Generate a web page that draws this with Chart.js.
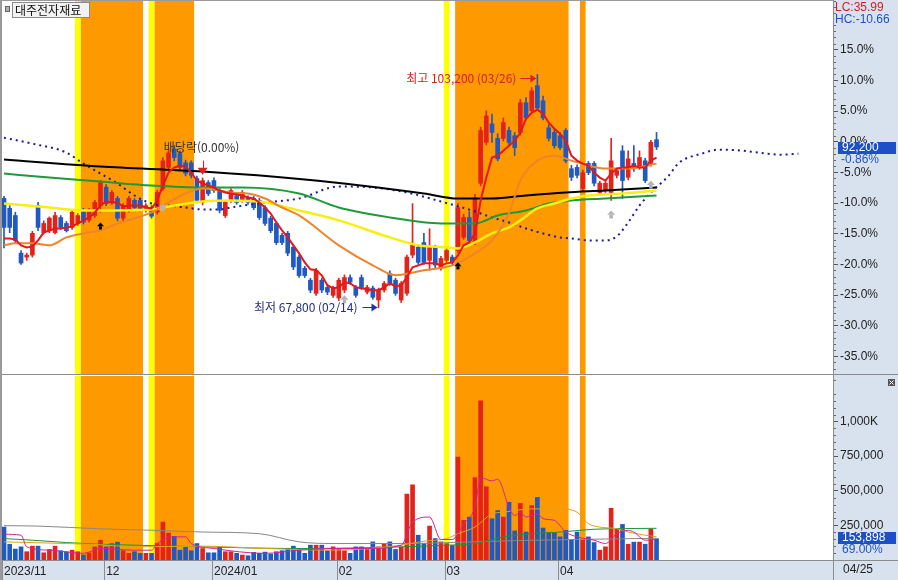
<!DOCTYPE html>
<html lang="ko"><head><meta charset="utf-8"><title>대주전자재료</title>
<script src="https://cdn.jsdelivr.net/npm/chart.js@4.4.1/dist/chart.umd.min.js"></script>
<style>
html,body{margin:0;padding:0;background:#fff;overflow:hidden}
#wrap{position:relative;width:898px;height:580px}
#c1,#c2{position:absolute;left:0;display:block}
#c1{top:0}#c2{top:375px}
</style></head><body>
<div id="wrap"><canvas id="c1" width="898" height="375"></canvas><canvas id="c2" width="898" height="205"></canvas></div>
<script>
// ---------------- DATA ----------------
const stockName = '대주전자재료';
const lastDate = '04/25';
const monthIdx = [0, 18, 37, 59, 78, 98];
const monthLabels = ['2023/11', '12', '2024/01', '02', '03', '04'];

const open = [84400,82900,81800,76100,75500,75800,83300,79200,79500,79200,
81500,80600,80000,80600,82600,81100,81800,83300,86100,83800,
84400,81400,82600,84100,84100,82600,83000,82300,85900,89100,
91900,91200,89800,89800,87400,83800,86800,87100,85600,81800,
84100,84800,84100,84500,84400,84100,83000,81400,80600,78800,
79100,77000,75500,73800,72000,70000,72000,70900,69700,69300,
70500,72400,70900,72400,70200,70800,69000,70500,73000,72000,
69000,70000,75800,77000,77700,75000,77000,73800,75000,75500,
76500,78500,81500,77700,86700,92900,95700,93500,93500,94700,
93900,94400,98900,97700,101500,99200,95100,94400,93900,94700,
88900,89100,85900,89700,89700,85300,85600,85300,87900,91600,
87600,89700,89100,90100,89700,93300];
const high = [84700,83300,82300,76500,76100,79400,83800,81000,81600,82300,
81800,80900,82600,82100,82900,82900,84100,87100,86500,85600,
84700,83600,84700,84400,84400,83600,83300,85600,90600,91900,
92400,91600,90200,90100,87800,87500,87100,87500,85900,84100,
85900,85100,85600,84800,84700,84400,83300,81700,80900,79100,
79400,77300,75800,74100,72300,73800,72300,71300,71100,72300,
72800,72800,71200,72800,71200,71100,70800,71800,73400,72300,
71800,75800,83600,77300,79100,79800,77300,75600,77000,75800,
83600,82000,82400,85000,95200,97700,97200,94200,96600,95200,
94400,99400,99700,101200,103200,99900,95600,94900,94400,95000,
89400,89500,88700,90000,90000,87000,87000,93500,89000,92400,
91600,92400,91600,90500,93200,94400];
const low = [76900,79200,77600,74400,75000,75500,79500,79000,79200,79000,
79700,79300,79700,80300,80500,80800,81500,82300,83300,83500,
81000,81000,82300,82700,82500,82300,81400,82000,85600,88800,
90100,88700,87800,87500,83700,83400,84800,85300,82200,81500,
83800,83500,83800,83500,82700,81200,80300,79200,77400,77400,
75700,73600,72400,72400,70100,69700,70100,69800,69400,68900,
70100,71400,69400,70600,69900,69100,67800,70200,71200,69700,
68600,69700,75400,74400,74400,73500,73900,73500,74700,74200,
76200,78200,77700,77400,86300,92500,92900,90100,93100,92500,
90900,94000,96300,97400,97800,96300,93100,92000,91800,89800,
87100,87500,85600,88000,86300,85000,85300,84100,87500,84400,
87200,88500,88800,86800,89300,91800];
const close = [80000,80000,78000,74600,75800,79100,80000,80600,81400,81800,
80000,79500,82300,81800,80800,82600,83800,86800,83600,85300,
81400,83300,84400,83000,82900,83300,81700,85300,90100,91300,
90600,89100,88200,87900,84100,87100,85100,85600,82600,83800,
85600,83800,85300,83800,83000,81500,80600,79500,77700,77700,
76100,74000,72700,72700,70500,73500,70500,70200,70800,72000,
72400,71700,69700,70900,70900,69400,70500,71500,71500,70000,
71500,75500,77300,74700,74700,77000,74300,75300,76500,74600,
83000,81500,78000,84500,94700,96900,94400,90400,95900,92900,
92100,98900,96600,100700,98100,96600,93500,92400,92100,90100,
87600,87900,88300,88300,86700,86700,86700,90100,88600,87100,
90400,88900,90600,87100,92900,92200];
const volume = [238000,114000,79000,95000,60000,100000,100000,52000,76000,100000,
67000,60000,71000,60000,36000,52000,95000,143000,95000,119000,
129000,67000,48000,60000,48000,48000,48000,119000,274000,195000,
171000,71000,95000,67000,119000,83000,52000,52000,95000,60000,
60000,48000,36000,31000,55000,48000,57000,43000,60000,67000,
79000,100000,83000,48000,107000,107000,107000,67000,95000,83000,
67000,48000,95000,95000,76000,131000,95000,114000,131000,76000,
95000,476000,543000,179000,119000,245000,155000,131000,119000,105000,
743000,286000,310000,595000,1150000,529000,298000,357000,310000,417000,
210000,409000,202000,393000,452000,231000,195000,195000,167000,214000,
148000,202000,143000,167000,126000,71000,95000,374000,226000,257000,
114000,129000,129000,114000,223040,153898];

// 5-day price average read point by point
const ma5 = [78330,78330,78180,77280,76970,77120,78030,79240,79540,79850,
79850,80000,80150,80600,81060,81510,82270,83320,83930,83780,
83780,83170,83320,83320,83320,83020,82870,84080,86350,88310,
89070,89370,89220,88310,87100,86650,86350,86050,85590,85290,
85140,84990,84840,84530,84380,83780,83020,82110,80750,79540,
78480,77280,76070,74700,73650,73500,72740,71230,70770,70920,
71680,71530,70920,70770,70620,70470,70470,70920,71530,71080,
71230,72440,73950,74250,74550,74550,74550,74250,74550,74700,
75760,77280,77730,79090,84080,87560,90580,90880,91640,92400,
93150,94360,96480,97390,97840,97230,95870,94970,94210,93150,
90880,90130,89670,89370,88310,87560,87100,88160,88920,89070,
89070,89370,89070,89070,90130,90580];

// longer averages read at sample points: [index, price]
const ma20 = [[0,77280],[2,77580],[5,77580],[8,77280],[11,78490],[14,79090],[17,79540],[20,80600],[23,81360],[26,82270],[29,83780],[32,85140],[35,85890],[38,85590],[40,85290],[43,85140],[46,84380],[49,83020],[52,81810],[59,77280],[65,74250],[69,72740],[74,73500],[79,74250],[83,76070],[86,78030],[89,82110],[91,87100],[94,90130],[97,90880],[100,90130],[103,89370],[106,88920],[110,88920],[115,89670]];
const ma60 = [[0,83630],[8,83020],[14,82570],[17,82570],[26,82720],[29,83170],[35,83930],[40,84080],[46,83780],[52,82570],[59,81060],[68,78490],[73,77280],[78,76970],[80,76820],[83,77730],[86,79090],[89,80000],[91,81060],[94,82870],[97,83630],[100,84380],[103,84840],[109,85140],[115,85590]];
const ma120 = [[0,88160],[8,87560],[17,86950],[26,86350],[35,86050],[42,86050],[52,85140],[59,83020],[68,81510],[77,80600],[83,80600],[87,81810],[92,82570],[96,83630],[100,84080],[106,84380],[115,84840]];
const ma240 = [[0,90280],[17,89220],[35,88460],[53,87250],[74,85140],[80,84380],[86,84380],[92,84840],[99,85290],[106,85590],[115,86050]];
const leadLine = [[0,93600],[5,92700],[11,91340],[14,89670],[17,88160],[20,86650],[23,84840],[26,83630],[29,83320],[32,83020],[35,82720],[38,82720],[40,83020],[46,83780],[52,84380],[59,86200],[65,86050],[71,85290],[77,83930],[83,82420],[86,81510],[89,80750],[92,79840],[95,79090],[98,78480],[100,78330],[103,78030],[106,78030],[108,78640],[110,80750],[112,83320],[114,85290],[117,87710],[119,89820],[123,91190],[126,91790],[130,91640],[133,91340],[137,91030],[140,91190]];

// volume averages read at sample points: [index, volume]
const volMaGray = [[0,248000],[6,245000],[17,225000],[26,215000],[35,202000],[45,190000],[52,131000],[58,119000],[70,119000],[78,125000],[90,140000],[115,157000]];
const volMaGreen = [[0,155000],[5,143000],[11,126000],[17,114000],[23,107000],[35,95000],[52,83000],[70,95000],[78,107000],[83,119000],[88,167000],[93,190000],[98,202000],[104,222000],[115,229000]];
const volMaOrange = [[0,131000],[11,119000],[17,110000],[23,95000],[35,100000],[46,83000],[58,71000],[70,107000],[74,136000],[78,155000],[80,190000],[83,238000],[86,333000],[88,345000],[93,369000],[98,369000],[101,345000],[103,262000],[105,238000],[108,226000],[110,202000],[115,167000]];
const volMa5 = [[0,186000],[3,179000],[4,95000],[8,71000],[14,48000],[17,83000],[23,71000],[26,71000],[27,119000],[30,167000],[32,167000],[33,119000],[37,83000],[46,48000],[52,71000],[58,83000],[64,83000],[70,107000],[72,274000],[75,310000],[77,148000],[79,148000],[81,262000],[83,381000],[84,595000],[86,571000],[87,583000],[89,381000],[90,321000],[91,345000],[92,310000],[94,333000],[95,298000],[97,286000],[99,202000],[101,167000],[104,143000],[106,119000],[108,190000],[110,214000],[111,202000],[113,143000],[115,148000]];

// signal markers and event marks: [index, price level]
const yellowBands = [13, 26, 78];
const orangeBands = [[14,24],[27,33],[80,99],[102,102]];
const blackSignals = [[17,80750],[80,74700]];
const graySignals = [[28,83630],[60,69700],[107,82570],[114,87100]];
const exDivIndex = 35, exDivLevel = 88000, exDivRate = '0.00%';
const BASE = 93000;
const pctTicks = [15,10,5,0,-5,-10,-15,-20,-25,-30,-35];
const volTicks = [250000,500000,750000,1000000];

// ---------------- STYLE ----------------
const AXIS_BG = '#d8e1ee';
const UP = '#e3231b', DOWN = '#1f59c2';
const PCT_TOP = 23.10, PCT_BOTTOM = -37.88;
const VOL_MAX = 1329000;
const X_MIN = -0.53, X_MAX = 146.1;
const NUMFONT = '"Liberation Sans", Arial, sans-serif';
const KRFONT = '"Noto Sans CJK KR", "Noto Sans", sans-serif';
Chart.defaults.font.family = NUMFONT;
Chart.defaults.font.size = 12;
Chart.defaults.color = '#222';

const N = close.length;
const candleColors = close.map((c,i)=> c >= open[i] ? UP : DOWN);
const toXY = a => a.map(([i,v]) => ({x:i, y:v}));
const pct = v => (v/BASE - 1) * 100;
const fmt = n => Math.round(n).toString().replace(/\B(?=(\d{3})+(?!\d))/g, ',');
const lastClose = close[N-1];
const minLow = Math.min(...low), maxHigh = Math.max(...high);
const minIdx = low.indexOf(minLow), maxIdx = high.indexOf(maxHigh);

function hline(ctx,x0,x1,y){ctx.beginPath();ctx.moveTo(x0,y);ctx.lineTo(x1,y);ctx.stroke();}
function vline(ctx,x,y0,y1){ctx.beginPath();ctx.moveTo(x,y0);ctx.lineTo(x,y1);ctx.stroke();}
function noPad(s){ s.paddingTop = 0; s.paddingBottom = 0; s.paddingLeft = 0; s.paddingRight = 0; }

function drawBands(chart){
  const {ctx, chartArea:a} = chart, x = chart.scales.x;
  ctx.save();
  const fillSlot = (i0,i1,col)=>{
    const x0 = x.getPixelForValue(i0-0.5), x1 = x.getPixelForValue(i1+0.5);
    ctx.fillStyle = col; ctx.fillRect(x0, a.top, x1-x0, a.bottom-a.top);
  };
  orangeBands.forEach(b=>fillSlot(b[0],b[1],'#ff9900'));
  yellowBands.forEach(i=>fillSlot(i,i,'#ffff00'));
  ctx.restore();
}
function arrowUp(ctx,x,yTip,col,w,h){
  ctx.fillStyle = col;
  ctx.beginPath(); ctx.moveTo(x,yTip); ctx.lineTo(x+w/2,yTip+h*0.55); ctx.lineTo(x-w/2,yTip+h*0.55); ctx.closePath(); ctx.fill();
  ctx.fillRect(x-w*0.22, yTip+h*0.55, w*0.44, h*0.45);
}
function arrowRight(ctx,x0,x1,y,col){
  ctx.strokeStyle = col; ctx.fillStyle = col; ctx.lineWidth = 1;
  hline(ctx,x0,x1-4,y+0.5);
  ctx.beginPath(); ctx.moveTo(x1,y+0.5); ctx.lineTo(x1-6,y-3.5); ctx.lineTo(x1-6,y+4.5); ctx.closePath(); ctx.fill();
}

const mainDecor = {
  id:'mainDecor',
  beforeDraw(chart){
    const {ctx, chartArea:a, width, height} = chart;
    ctx.save(); ctx.fillStyle='#fff'; ctx.fillRect(0,0,width,height);
    ctx.fillStyle=AXIS_BG; ctx.fillRect(a.right,0,width-a.right,height); ctx.restore();
  },
  beforeDatasetsDraw(chart){ drawBands(chart); },
  afterDatasetsDraw(chart){
    const {ctx} = chart, x = chart.scales.x, y = chart.scales.y;
    ctx.save();
    blackSignals.forEach(([i,v])=>arrowUp(ctx, x.getPixelForValue(i), y.getPixelForValue(v), '#000', 7, 7));
    graySignals.forEach(([i,v])=>arrowUp(ctx, x.getPixelForValue(i), y.getPixelForValue(v), '#b4b4b4', 8, 8));
    // ex-dividend mark
    const ex = x.getPixelForValue(exDivIndex), ey = y.getPixelForValue(exDivLevel);
    ctx.strokeStyle = '#e02020'; ctx.lineWidth = 1; vline(ctx, Math.round(ex)+0.5, ey-14, ey-6);
    ctx.fillStyle = '#e02020'; ctx.beginPath(); ctx.moveTo(ex-5,ey-7); ctx.lineTo(ex+5,ey-7); ctx.lineTo(ex,ey); ctx.closePath(); ctx.fill();
    ctx.font = '12px '+KRFONT; ctx.fillStyle = '#333'; ctx.textAlign='center'; ctx.textBaseline='middle';
    ctx.fillText('배당락('+exDivRate+')', ex-1, ey-27);
    // high mark
    const hx = x.getPixelForValue(maxIdx), hy = Math.round(y.getPixelForValue(maxHigh))+4;
    arrowRight(ctx, hx-17, hx-1, hy, '#e02020');
    ctx.fillStyle = '#d42020'; ctx.textAlign='right';
    ctx.fillText('최고 '+fmt(maxHigh)+' (03/26)', hx-21, hy);
    // low mark
    const lx = x.getPixelForValue(minIdx), ly = Math.round(y.getPixelForValue(minLow))-1;
    arrowRight(ctx, lx-16, lx-1, ly, '#1a2fd0');
    ctx.fillStyle = '#22307f'; ctx.textAlign='right';
    ctx.fillText('최저 '+fmt(minLow)+' (02/14)', lx-21, ly);
    ctx.restore();
  },
  afterDraw(chart){
    const {ctx, chartArea:a, width, height} = chart, y = chart.scales.y;
    ctx.save();
    ctx.strokeStyle='#666'; ctx.lineWidth=1;
    for(let p=Math.ceil(PCT_BOTTOM); p<=Math.floor(PCT_TOP); p++){
      if(p%5===0) continue;
      const py = Math.round(y.getPixelForValue(BASE*(1+p/100)))+0.5;
      hline(ctx, a.right, a.right+3, py);
    }
    ctx.strokeStyle='#8c8c8c';
    hline(ctx, 0, width, a.bottom+0.5);
    vline(ctx, a.right+0.5, 0, height);
    ctx.fillStyle='#9a9a9a'; ctx.fillRect(0,0,2,height); ctx.fillRect(0,0,a.right,1);
    // title
    ctx.fillStyle='#b0b0b0'; ctx.fillRect(5,6,5,6); ctx.strokeStyle='#666'; ctx.strokeRect(5.5,6.5,4,5);
    ctx.fillStyle='#f2f2f2'; ctx.fillRect(12,2,78,16); ctx.strokeStyle='#8a8a8a'; ctx.strokeRect(12.5,2.5,77,15);
    ctx.font='12px '+KRFONT; ctx.fillStyle='#111'; ctx.textAlign='left'; ctx.textBaseline='middle';
    ctx.fillText(stockName, 15, 10.5);
    // LC / HC
    ctx.font='12px '+NUMFONT;
    ctx.fillStyle='#d42020'; ctx.fillText('LC:'+((lastClose/minLow-1)*100).toFixed(2), a.right+2, 8);
    ctx.fillStyle='#2153c4'; ctx.fillText('HC:'+((lastClose/maxHigh-1)*100).toFixed(2), a.right+2, 20);
    // price box
    const py = Math.round(y.getPixelForValue(lastClose));
    ctx.fillStyle='#1d50c6'; ctx.fillRect(a.right+5, py-5, 58, 12);
    ctx.fillStyle='#fff'; ctx.fillText(fmt(lastClose), a.right+9, py+1);
    ctx.fillStyle='#2153c4'; ctx.fillText(pct(lastClose).toFixed(2)+'%', a.right+8, py+13);
    ctx.restore();
  }
};

const volDecor = {
  id:'volDecor',
  beforeDraw(chart){
    const {ctx, chartArea:a, width, height} = chart;
    ctx.save(); ctx.fillStyle='#fff'; ctx.fillRect(0,0,width,height);
    ctx.fillStyle=AXIS_BG; ctx.fillRect(a.right,0,width-a.right,height);
    ctx.fillRect(0,a.bottom,width,height-a.bottom); ctx.restore();
  },
  beforeDatasetsDraw(chart){ drawBands(chart); },
  afterDraw(chart){
    const {ctx, chartArea:a, width, height} = chart, x = chart.scales.x, y = chart.scales.y;
    ctx.save();
    ctx.strokeStyle='#666'; ctx.lineWidth=1;
    for(let v=50000; v<VOL_MAX; v+=50000){
      if(v%250000===0) continue;
      const py = Math.round(y.getPixelForValue(v))+0.5;
      hline(ctx, a.right, a.right+3, py);
    }
    ctx.strokeStyle='#8c8c8c';
    hline(ctx, 0, width, a.bottom+0.5);
    vline(ctx, a.right+0.5, 0, height);
    x.ticks.forEach(t=>{ const px = Math.round(x.getPixelForValue(t.value))+0.5; vline(ctx, px, a.bottom, height); });
    ctx.fillStyle='#9a9a9a'; ctx.fillRect(0,0,2,height);
    // last volume box
    const vy = Math.round(y.getPixelForValue(volume[N-1]));
    ctx.font='12px '+NUMFONT; ctx.textAlign='left'; ctx.textBaseline='middle';
    ctx.fillStyle='#1d50c6'; ctx.fillRect(a.right+5, vy-7, 58, 12);
    ctx.fillStyle='#fff'; ctx.fillText(fmt(volume[N-1]), a.right+9, vy-1);
    ctx.fillStyle='#2153c4'; ctx.fillText((volume[N-1]/volume[N-2]*100).toFixed(2)+'%', a.right+9, vy+11);
    ctx.fillStyle='#222'; ctx.fillText(lastDate, a.right+10, a.bottom+10);
    // close icon
    ctx.fillStyle='#555'; ctx.fillRect(width-10, 4, 7, 7);
    ctx.strokeStyle='#fff'; ctx.beginPath(); ctx.moveTo(width-8.5,5.5); ctx.lineTo(width-4.5,9.5); ctx.moveTo(width-4.5,5.5); ctx.lineTo(width-8.5,9.5); ctx.stroke();
    ctx.restore();
  }
};

const lineDs = (data, color, w, extra) => Object.assign({type:'line', data, borderColor:color, borderWidth:w, pointRadius:0, cubicInterpolationMode:'monotone', order:0}, extra||{});

new Chart(document.getElementById('c1'), {
  type:'bar',
  data:{ datasets:[
    lineDs(ma5.map((v,i)=>({x:i,y:v})), '#e8161b', 2, {cubicInterpolationMode:'default', tension:0}),
    lineDs(toXY(ma20), '#f0842a', 2),
    lineDs(toXY(ma240), '#000000', 2),
    lineDs(toXY(ma60), '#f6ef10', 2.5),
    lineDs(toXY(ma120), '#1f9a3a', 2),
    lineDs(toXY(leadLine), '#1b1b9e', 2, {borderDash:[2,4]}),
    {type:'bar', data: close.map((c,i)=>({x:i, y:[open[i], c]})), backgroundColor:candleColors, barThickness:4, minBarLength:1, grouped:false, order:1},
    {type:'bar', data: low.map((l,i)=>({x:i, y:[l, high[i]]})), backgroundColor:candleColors, barThickness:1, grouped:false, order:2}
  ]},
  options:{
    responsive:false, animation:false, events:[], devicePixelRatio:1,
    layout:{padding:{left:1,right:0,top:0,bottom:1}},
    plugins:{legend:{display:false}, tooltip:{enabled:false}},
    scales:{
      x:{type:'linear', min:X_MIN, max:X_MAX, offset:false, display:false},
      y:{type:'linear', position:'right', min:BASE*(1+PCT_BOTTOM/100), max:BASE*(1+PCT_TOP/100),
         afterFit(s){ s.width = 65; noPad(s); },
         afterBuildTicks(s){ s.ticks = pctTicks.map(p=>({value: BASE*(1+p/100)})); },
         ticks:{ callback:v=>pct(v).toFixed(1)+'%', autoSkip:false, padding:2, color:'#222', font:{size:12} },
         grid:{ drawOnChartArea:false, tickLength:5, tickColor:'#555' },
         border:{ color:'#8c8c8c' } }
    }
  },
  plugins:[mainDecor]
});

new Chart(document.getElementById('c2'), {
  type:'bar',
  data:{ datasets:[
    lineDs(toXY(volMa5), '#d81fa0', 1),
    lineDs(toXY(volMaOrange), '#e0a21c', 1),
    lineDs(toXY(volMaGreen), '#1e9438', 1),
    lineDs(toXY(volMaGray), '#888888', 1),
    {type:'bar', data: volume.map((v,i)=>({x:i, y:v})), backgroundColor:candleColors, barThickness:4, grouped:false, order:1}
  ]},
  options:{
    responsive:false, animation:false, events:[], devicePixelRatio:1,
    layout:{padding:{left:1,right:0,top:1,bottom:0}},
    plugins:{legend:{display:false}, tooltip:{enabled:false}},
    scales:{
      x:{type:'linear', min:X_MIN, max:X_MAX, offset:false, position:'bottom',
         afterFit(s){ s.height = 20; noPad(s); },
         afterBuildTicks(s){ s.ticks = monthIdx.map(i=>({value:i-0.35})); },
         ticks:{ callback:(v,k)=>monthLabels[k], autoSkip:false, maxRotation:0, align:'start', labelOffset:2, padding:4, color:'#222', font:{size:12} },
         grid:{ display:false, drawTicks:false },
         border:{ display:false } },
      y:{type:'linear', position:'right', min:0, max:VOL_MAX,
         afterFit(s){ s.width = 65; noPad(s); },
         afterBuildTicks(s){ s.ticks = volTicks.map(v=>({value:v})); },
         ticks:{ callback:v=> v>=1000000 ? fmt(v/1000)+'K' : fmt(v), autoSkip:false, padding:2, color:'#222', font:{size:12} },
         grid:{ drawOnChartArea:false, tickLength:5, tickColor:'#555' },
         border:{ color:'#8c8c8c' } }
    }
  },
  plugins:[volDecor]
});
</script>
</body></html>
